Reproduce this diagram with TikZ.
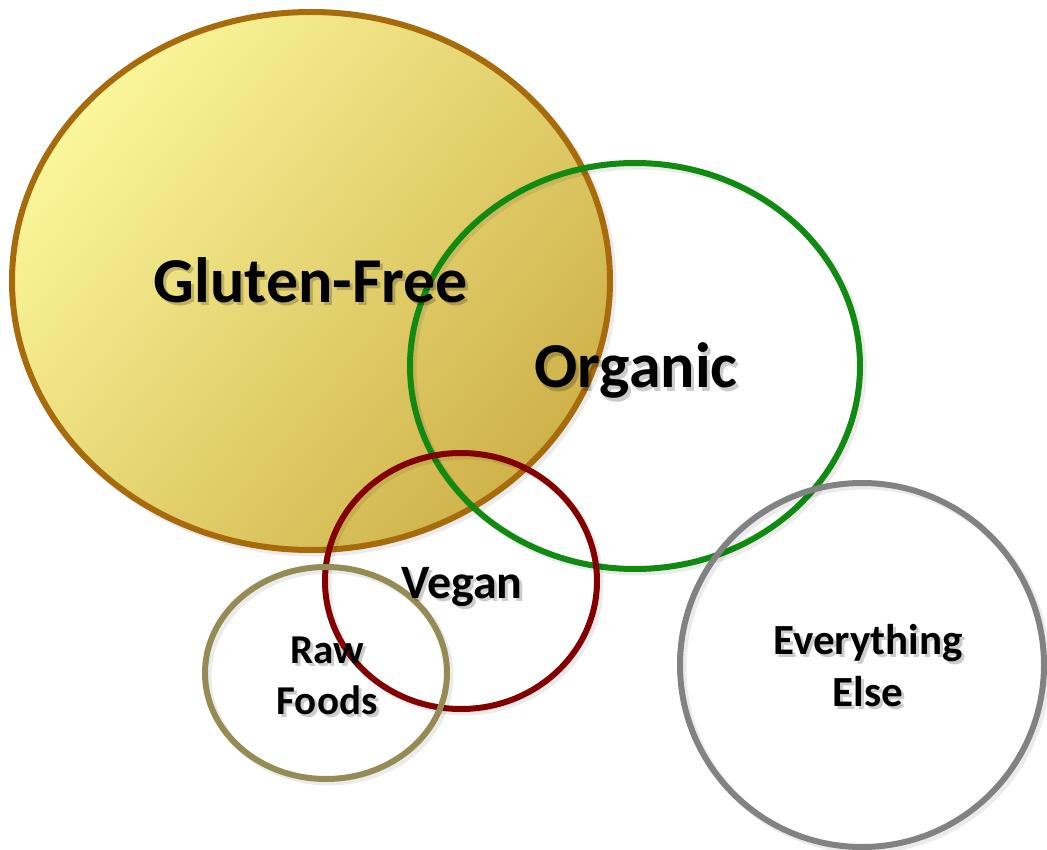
\documentclass[tikz,border=0pt]{standalone}
\usepackage{fontspec}
\setmainfont{Carlito}
\usetikzlibrary{shapes.geometric}
\definecolor{gfborder}{HTML}{A86B0C}
\definecolor{gflight}{HTML}{FBF69A}
\definecolor{gfdark}{HTML}{CFB24A}
\definecolor{orggreen}{HTML}{118A11}
\definecolor{vegred}{HTML}{820000}
\definecolor{rawolive}{HTML}{948B55}
\definecolor{elsegray}{HTML}{828282}
\tikzset{
  setshape/.style={ellipse, line width=6pt, inner sep=0pt, outer sep=0pt},
  shadowring/.style={ellipse, line width=7pt, inner sep=0pt, draw=black, draw opacity=0.08},
  lbl/.style={text=black, inner sep=0pt, align=center},
  lblshadow/.style={text=black, text opacity=0.2, inner sep=0pt, align=center},
  bigfont/.style={font=\fontsize{64}{72}\selectfont\bfseries},
  midfont/.style={font=\fontsize{48}{56}\selectfont\bfseries},
  rawfont/.style={font=\fontsize{41}{51}\selectfont\bfseries},
  elsefont/.style={font=\fontsize{43}{52}\selectfont\bfseries},
}
\begin{document}
\begin{tikzpicture}[x=1pt,y=-1pt]
\useasboundingbox (0,0) rectangle (1047,850);
% gluten-free shadow and body
\node[shadowring, minimum width=598pt, minimum height=538pt] (gfsh) at (314,284) {};
\node[setshape, draw=gfborder, top color=gflight, bottom color=gfdark, shading angle=50,
      minimum width=598pt, minimum height=538pt] (gf) at (311,281) {};
% other sets
\node[shadowring, minimum width=450pt, minimum height=406pt] (orgsh) at (638,369) {};
\node[setshape, draw=orggreen, minimum width=450pt, minimum height=406pt] (org) at (635,366) {};
\node[shadowring, minimum width=272pt, minimum height=256pt] (vegsh) at (464,584) {};
\node[setshape, draw=vegred, minimum width=272pt, minimum height=256pt] (veg) at (461,581) {};
\node[shadowring, minimum width=242pt, minimum height=212pt] (rawsh) at (329,676) {};
\node[setshape, draw=rawolive, minimum width=242pt, minimum height=212pt] (raw) at (326,673) {};
\node[shadowring, minimum width=364pt, minimum height=364pt] (elsesh) at (865,668) {};
\node[setshape, draw=elsegray, minimum width=364pt, minimum height=364pt] (else) at (862,665) {};
% label shadows
\node[lblshadow, bigfont, anchor=base] (gftxs) at (314,306) {Gluten-Free};
\node[lblshadow, bigfont, anchor=base] (orgtxs) at (639,391) {Organic};
\node[lblshadow, midfont, anchor=base] (vegtxs) at (465,601) {Vegan};
\node[lblshadow, rawfont] (rawtxs) at (330,679) {Raw\\Foods};
\node[lblshadow, elsefont] (elsetxs) at (871,669) {Everything\\Else};
% labels
\node[lbl, bigfont, anchor=base] (gftx) at (311,303) {Gluten-Free};
\node[lbl, bigfont, anchor=base] (orgtx) at (636,388) {Organic};
\node[lbl, midfont, anchor=base] (vegtx) at (462,598) {Vegan};
\node[lbl, rawfont] (rawtx) at (327,676) {Raw\\Foods};
\node[lbl, elsefont] (elsetx) at (868,666) {Everything\\Else};
\end{tikzpicture}
\end{document}
